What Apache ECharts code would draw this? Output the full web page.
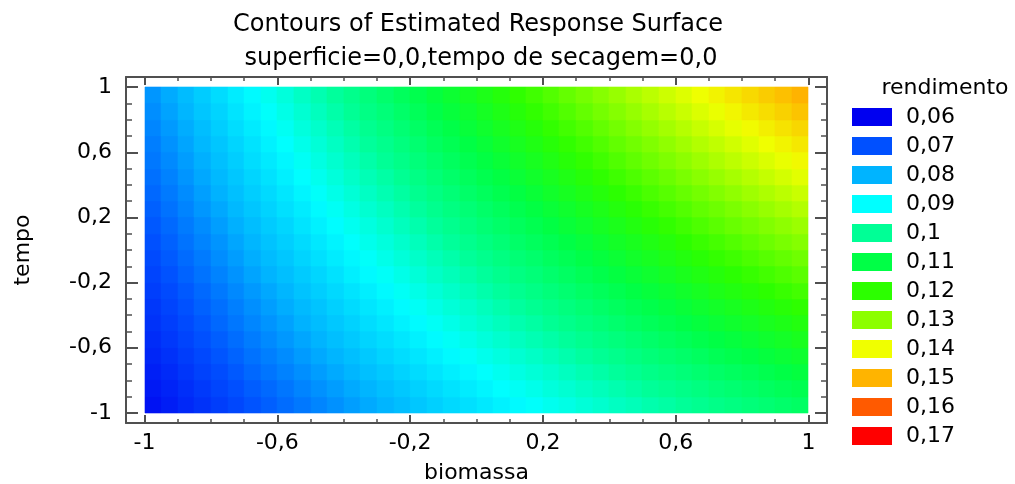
<!DOCTYPE html>
<html>
<head>
<meta charset="utf-8">
<title>Contours of Estimated Response Surface</title>
<script src="https://cdn.jsdelivr.net/npm/echarts@6/dist/echarts.min.js"></script>
<style>
  html, body { margin: 0; padding: 0; background: #fff; }
  #chart { width: 1015px; height: 484px; }
</style>
</head>
<body>
<div id="chart"></div>
<script>
// centros das celulas
const biomassa = [-0.975, -0.925, -0.875, -0.825, -0.775, -0.725, -0.675, -0.625, -0.575, -0.525,
    -0.475, -0.425, -0.375, -0.325, -0.275, -0.225, -0.175, -0.125, -0.075, -0.025,
    0.025, 0.075, 0.125, 0.175, 0.225, 0.275, 0.325, 0.375, 0.425, 0.475,
    0.525, 0.575, 0.625, 0.675, 0.725, 0.775, 0.825, 0.875, 0.925, 0.975]
const tempo = [-0.95, -0.85, -0.75, -0.65, -0.55, -0.45, -0.35, -0.25, -0.15, -0.05,
    0.05, 0.15, 0.25, 0.35, 0.45, 0.55, 0.65, 0.75, 0.85, 0.95]

// rendimento estimado, uma linha por valor de tempo (de baixo para cima)
const rendimento = [
    [0.0623, 0.0636, 0.0650, 0.0663, 0.0676, 0.0689, 0.0703, 0.0715, 0.0728, 0.0740, 0.0753, 0.0765, 0.0778, 0.0790, 0.0801, 0.0813, 0.0825, 0.0837, 0.0849, 0.0859,
     0.0871, 0.0882, 0.0894, 0.0904, 0.0915, 0.0925, 0.0937, 0.0947, 0.0958, 0.0967, 0.0978, 0.0987, 0.0998, 0.1008, 0.1017, 0.1026, 0.1036, 0.1045, 0.1055, 0.1064],
    [0.0631, 0.0644, 0.0658, 0.0671, 0.0686, 0.0699, 0.0713, 0.0725, 0.0738, 0.0752, 0.0765, 0.0777, 0.0790, 0.0802, 0.0815, 0.0827, 0.0839, 0.0851, 0.0863, 0.0875,
     0.0887, 0.0898, 0.0910, 0.0920, 0.0933, 0.0943, 0.0955, 0.0965, 0.0976, 0.0987, 0.0998, 0.1007, 0.1018, 0.1028, 0.1039, 0.1048, 0.1058, 0.1067, 0.1077, 0.1086],
    [0.0639, 0.0653, 0.0668, 0.0682, 0.0695, 0.0709, 0.0724, 0.0737, 0.0750, 0.0763, 0.0777, 0.0790, 0.0803, 0.0816, 0.0828, 0.0841, 0.0853, 0.0866, 0.0879, 0.0890,
     0.0902, 0.0914, 0.0927, 0.0938, 0.0949, 0.0960, 0.0973, 0.0984, 0.0995, 0.1005, 0.1017, 0.1027, 0.1038, 0.1049, 0.1059, 0.1069, 0.1079, 0.1089, 0.1100, 0.1110],
    [0.0647, 0.0661, 0.0676, 0.0690, 0.0705, 0.0719, 0.0734, 0.0747, 0.0760, 0.0775, 0.0789, 0.0802, 0.0815, 0.0828, 0.0842, 0.0855, 0.0867, 0.0880, 0.0893, 0.0906,
     0.0918, 0.0930, 0.0943, 0.0954, 0.0967, 0.0978, 0.0991, 0.1002, 0.1013, 0.1025, 0.1037, 0.1047, 0.1058, 0.1069, 0.1081, 0.1091, 0.1101, 0.1111, 0.1122, 0.1132],
    [0.0655, 0.0670, 0.0685, 0.0700, 0.0714, 0.0729, 0.0744, 0.0758, 0.0772, 0.0786, 0.0800, 0.0814, 0.0828, 0.0842, 0.0854, 0.0868, 0.0881, 0.0895, 0.0908, 0.0921,
     0.0934, 0.0947, 0.0960, 0.0972, 0.0984, 0.0996, 0.1009, 0.1021, 0.1033, 0.1044, 0.1056, 0.1067, 0.1079, 0.1091, 0.1101, 0.1112, 0.1123, 0.1134, 0.1145, 0.1157],
    [0.0663, 0.0678, 0.0693, 0.0708, 0.0724, 0.0739, 0.0754, 0.0768, 0.0782, 0.0798, 0.0812, 0.0826, 0.0840, 0.0854, 0.0868, 0.0882, 0.0895, 0.0909, 0.0922, 0.0937,
     0.0950, 0.0963, 0.0976, 0.0988, 0.1002, 0.1014, 0.1027, 0.1039, 0.1051, 0.1064, 0.1076, 0.1087, 0.1099, 0.1111, 0.1123, 0.1134, 0.1145, 0.1156, 0.1167, 0.1179],
    [0.0669, 0.0685, 0.0701, 0.0717, 0.0731, 0.0747, 0.0763, 0.0778, 0.0793, 0.0808, 0.0822, 0.0837, 0.0852, 0.0867, 0.0880, 0.0895, 0.0909, 0.0923, 0.0937, 0.0950,
     0.0964, 0.0978, 0.0992, 0.1005, 0.1017, 0.1030, 0.1044, 0.1057, 0.1070, 0.1082, 0.1094, 0.1106, 0.1119, 0.1132, 0.1143, 0.1155, 0.1167, 0.1178, 0.1190, 0.1202],
    [0.0677, 0.0693, 0.0709, 0.0725, 0.0741, 0.0757, 0.0773, 0.0788, 0.0803, 0.0820, 0.0834, 0.0849, 0.0864, 0.0879, 0.0894, 0.0909, 0.0923, 0.0937, 0.0951, 0.0966,
     0.0980, 0.0994, 0.1008, 0.1021, 0.1035, 0.1048, 0.1062, 0.1075, 0.1088, 0.1102, 0.1114, 0.1126, 0.1139, 0.1152, 0.1165, 0.1177, 0.1189, 0.1200, 0.1212, 0.1224],
    [0.0685, 0.0702, 0.0719, 0.0735, 0.0751, 0.0767, 0.0784, 0.0800, 0.0815, 0.0831, 0.0846, 0.0862, 0.0878, 0.0893, 0.0907, 0.0922, 0.0937, 0.0953, 0.0967, 0.0981,
     0.0995, 0.1010, 0.1025, 0.1038, 0.1052, 0.1065, 0.1080, 0.1094, 0.1107, 0.1120, 0.1133, 0.1146, 0.1160, 0.1173, 0.1185, 0.1197, 0.1210, 0.1223, 0.1235, 0.1248],
    [0.0693, 0.0710, 0.0727, 0.0743, 0.0761, 0.0777, 0.0794, 0.0810, 0.0825, 0.0843, 0.0858, 0.0874, 0.0890, 0.0905, 0.0921, 0.0936, 0.0951, 0.0967, 0.0981, 0.0997,
     0.1011, 0.1026, 0.1041, 0.1054, 0.1070, 0.1083, 0.1098, 0.1112, 0.1125, 0.1140, 0.1153, 0.1166, 0.1180, 0.1193, 0.1207, 0.1219, 0.1232, 0.1245, 0.1257, 0.1270],
    [0.0700, 0.0717, 0.0735, 0.0752, 0.0768, 0.0786, 0.0803, 0.0820, 0.0836, 0.0852, 0.0869, 0.0885, 0.0902, 0.0918, 0.0932, 0.0949, 0.0964, 0.0981, 0.0996, 0.1010,
     0.1026, 0.1041, 0.1057, 0.1071, 0.1085, 0.1100, 0.1115, 0.1130, 0.1144, 0.1157, 0.1172, 0.1185, 0.1200, 0.1214, 0.1226, 0.1240, 0.1253, 0.1267, 0.1280, 0.1293],
    [0.0708, 0.0725, 0.0743, 0.0760, 0.0778, 0.0796, 0.0813, 0.0830, 0.0846, 0.0864, 0.0881, 0.0897, 0.0914, 0.0930, 0.0946, 0.0963, 0.0978, 0.0995, 0.1010, 0.1026,
     0.1042, 0.1057, 0.1073, 0.1087, 0.1103, 0.1118, 0.1133, 0.1148, 0.1162, 0.1177, 0.1192, 0.1205, 0.1220, 0.1234, 0.1248, 0.1262, 0.1275, 0.1289, 0.1302, 0.1315],
    [0.0716, 0.0734, 0.0752, 0.0771, 0.0788, 0.0806, 0.0824, 0.0841, 0.0858, 0.0875, 0.0893, 0.0910, 0.0927, 0.0944, 0.0959, 0.0976, 0.0993, 0.1010, 0.1026, 0.1041,
     0.1057, 0.1073, 0.1089, 0.1105, 0.1120, 0.1135, 0.1151, 0.1166, 0.1181, 0.1195, 0.1211, 0.1225, 0.1240, 0.1255, 0.1268, 0.1282, 0.1297, 0.1311, 0.1325, 0.1339],
    [0.0724, 0.0742, 0.0760, 0.0779, 0.0798, 0.0816, 0.0834, 0.0851, 0.0868, 0.0887, 0.0905, 0.0922, 0.0939, 0.0956, 0.0973, 0.0990, 0.1007, 0.1024, 0.1040, 0.1057,
     0.1073, 0.1089, 0.1105, 0.1121, 0.1138, 0.1153, 0.1169, 0.1184, 0.1199, 0.1215, 0.1231, 0.1245, 0.1260, 0.1275, 0.1290, 0.1304, 0.1319, 0.1333, 0.1347, 0.1361],
    [0.0732, 0.0750, 0.0769, 0.0788, 0.0806, 0.0825, 0.0844, 0.0862, 0.0880, 0.0898, 0.0916, 0.0934, 0.0952, 0.0970, 0.0986, 0.1004, 0.1021, 0.1039, 0.1056, 0.1072,
     0.1089, 0.1105, 0.1122, 0.1138, 0.1154, 0.1170, 0.1187, 0.1203, 0.1219, 0.1234, 0.1250, 0.1265, 0.1281, 0.1297, 0.1311, 0.1326, 0.1341, 0.1356, 0.1371, 0.1386],
    [0.0740, 0.0758, 0.0777, 0.0796, 0.0816, 0.0835, 0.0854, 0.0872, 0.0890, 0.0910, 0.0928, 0.0946, 0.0964, 0.0982, 0.1000, 0.1018, 0.1035, 0.1053, 0.1070, 0.1088,
     0.1105, 0.1121, 0.1138, 0.1154, 0.1172, 0.1188, 0.1205, 0.1221, 0.1237, 0.1254, 0.1270, 0.1285, 0.1301, 0.1317, 0.1333, 0.1348, 0.1363, 0.1378, 0.1393, 0.1408],
    [0.0746, 0.0766, 0.0785, 0.0805, 0.0824, 0.0844, 0.0863, 0.0882, 0.0901, 0.0920, 0.0938, 0.0957, 0.0976, 0.0995, 0.1011, 0.1030, 0.1048, 0.1067, 0.1084, 0.1101,
     0.1119, 0.1137, 0.1154, 0.1171, 0.1188, 0.1205, 0.1222, 0.1239, 0.1256, 0.1272, 0.1288, 0.1304, 0.1321, 0.1338, 0.1352, 0.1368, 0.1384, 0.1400, 0.1415, 0.1431],
    [0.0754, 0.0774, 0.0793, 0.0813, 0.0834, 0.0854, 0.0873, 0.0892, 0.0911, 0.0932, 0.0950, 0.0969, 0.0988, 0.1007, 0.1025, 0.1044, 0.1062, 0.1081, 0.1098, 0.1117,
     0.1135, 0.1153, 0.1170, 0.1187, 0.1206, 0.1223, 0.1240, 0.1257, 0.1274, 0.1292, 0.1308, 0.1324, 0.1341, 0.1358, 0.1374, 0.1390, 0.1406, 0.1422, 0.1437, 0.1453],
    [0.0762, 0.0783, 0.0803, 0.0824, 0.0843, 0.0864, 0.0884, 0.0904, 0.0923, 0.0943, 0.0962, 0.0982, 0.1001, 0.1021, 0.1038, 0.1058, 0.1076, 0.1096, 0.1114, 0.1132,
     0.1150, 0.1169, 0.1187, 0.1205, 0.1222, 0.1240, 0.1258, 0.1276, 0.1293, 0.1310, 0.1327, 0.1344, 0.1361, 0.1379, 0.1394, 0.1412, 0.1429, 0.1446, 0.1462, 0.1479],
    [0.0770, 0.0791, 0.0811, 0.0832, 0.0853, 0.0874, 0.0894, 0.0914, 0.0933, 0.0955, 0.0974, 0.0994, 0.1013, 0.1033, 0.1052, 0.1072, 0.1090, 0.1110, 0.1128, 0.1148,
     0.1166, 0.1185, 0.1203, 0.1221, 0.1240, 0.1258, 0.1276, 0.1294, 0.1311, 0.1330, 0.1347, 0.1364, 0.1381, 0.1399, 0.1416, 0.1434, 0.1451, 0.1468, 0.1484, 0.1501]
]

// niveis da legenda e cores
const niveis = [0.06, 0.07, 0.08, 0.09, 0.1, 0.11, 0.12, 0.13, 0.14, 0.15, 0.16, 0.17]
const cores = ['#0000f0', '#0050ff', '#00b4ff', '#00ffff', '#00ff96', '#00ff46',
    '#2cff00', '#8cff00', '#f0ff00', '#ffb400', '#ff5a00', '#ff0000']

// marcas dos eixos
const ticksPrincipais = [-1, -0.6, -0.2, 0.2, 0.6, 1]
const ticksMenores = [-1, -0.9, -0.8, -0.7, -0.6, -0.5, -0.4, -0.3, -0.2, -0.1, 0,
    0.1, 0.2, 0.3, 0.4, 0.5, 0.6, 0.7, 0.8, 0.9, 1]

const FONTE = 'DejaVu Sans'
const MOLDURA = '#505050'
const virgula = v => String(v).replace('.', ',')

const celulas = []
tempo.forEach((t, j) => {
    biomassa.forEach((b, i) => {
        celulas.push([b, t, rendimento[j][i]])
    })
})
const meiaLarg = (biomassa[1] - biomassa[0]) / 2
const meiaAlt = (tempo[1] - tempo[0]) / 2

function renderCelula(params, api) {
    const b = api.value(0)
    const t = api.value(1)
    const p0 = api.coord([b - meiaLarg, t + meiaAlt])
    const p1 = api.coord([b + meiaLarg, t - meiaAlt])
    const x0 = Math.round(p0[0]), y0 = Math.round(p0[1])
    const x1 = Math.round(p1[0]), y1 = Math.round(p1[1])
    const cor = api.visual('color')
    return {
        type: 'rect',
        shape: { x: x0, y: y0, width: x1 - x0, height: y1 - y0 },
        style: { fill: cor, stroke: cor, lineWidth: 0.6 }
    }
}

/**
 * eixo com marcas internas (principal ou menor)
 */
function eixo(posicao, valores, comprimento, principal, lim) {
    return {
        type: 'value',
        position: posicao,
        min: -lim,
        max: lim,
        splitLine: { show: false },
        axisLine: { show: principal, onZero: false, lineStyle: { color: MOLDURA, width: 2 } },
        axisTick: {
            show: true, inside: true, length: comprimento, customValues: valores,
            lineStyle: { color: MOLDURA, width: principal ? 2 : 1.5 }
        },
        axisLabel: { show: false }
    }
}

const xInf = eixo('bottom', ticksPrincipais, 8, true, 1.056)
xInf.axisLabel = {
    show: true, customValues: ticksPrincipais, formatter: virgula, margin: 9,
    color: '#000', fontSize: 22, fontFamily: FONTE
}
xInf.name = 'biomassa'
xInf.nameLocation = 'middle'
xInf.nameGap = 39
xInf.nameTextStyle = { color: '#000', fontSize: 22, fontFamily: FONTE }

const yEsq = eixo('left', ticksPrincipais, 12, true, 1.062)
yEsq.axisLabel = {
    show: true, customValues: ticksPrincipais, formatter: virgula, margin: 14,
    color: '#000', fontSize: 22, fontFamily: FONTE
}
yEsq.name = 'tempo'
yEsq.nameLocation = 'middle'
yEsq.nameGap = 92
yEsq.nameTextStyle = { color: '#000', fontSize: 22, fontFamily: FONTE }

const chart = echarts.init(document.getElementById('chart'))
const option = {
    backgroundColor: '#fff',
    animation: false,
    title: [
        {
            text: 'Contours of Estimated Response Surface', left: 473, top: 8, textAlign: 'center',
            textStyle: { color: '#000', fontSize: 24, fontWeight: 'normal', fontFamily: FONTE }
        },
        {
            text: 'superficie=0,0,tempo de secagem=0,0', left: 476, top: 42, textAlign: 'center',
            textStyle: { color: '#000', fontSize: 24, fontWeight: 'normal', fontFamily: FONTE }
        },
        {
            text: 'rendimento', left: 940, top: 72, textAlign: 'center',
            textStyle: { color: '#000', fontSize: 22, fontWeight: 'normal', fontFamily: FONTE }
        }
    ],
    grid: { left: 126, right: 188, top: 77, bottom: 61, outerBoundsMode: 'none' },
    xAxis: [
        xInf,
        eixo('bottom', ticksMenores, 4, false, 1.056),
        eixo('top', ticksPrincipais, 8, true, 1.056),
        eixo('top', ticksMenores, 4, false, 1.056)
    ],
    yAxis: [
        yEsq,
        eixo('left', ticksMenores, 6, false, 1.062),
        eixo('right', ticksPrincipais, 12, true, 1.062),
        eixo('right', ticksMenores, 6, false, 1.062)
    ],
    visualMap: [
        {
            type: 'continuous', show: false, seriesIndex: 0, dimension: 2,
            min: niveis[0], max: niveis[niveis.length - 1],
            inRange: { color: cores }
        },
        {
            type: 'piecewise', seriesIndex: [], orient: 'vertical', inverse: true, align: 'left',
            left: 837, top: 91, itemWidth: 40, itemHeight: 18, itemGap: 7, textGap: 14,
            itemSymbol: 'rect', selectedMode: false, hoverLink: false,
            pieces: niveis.map((v, i) => ({ value: v, label: virgula(v), color: cores[i] })),
            textStyle: { color: '#000', fontSize: 22, fontFamily: FONTE }
        }
    ],
    series: [{
        type: 'custom',
        xAxisIndex: 0,
        yAxisIndex: 0,
        silent: true,
        encode: { x: 0, y: 1 },
        data: celulas,
        renderItem: renderCelula
    }]
}
chart.setOption(option)
</script>
</body>
</html>
